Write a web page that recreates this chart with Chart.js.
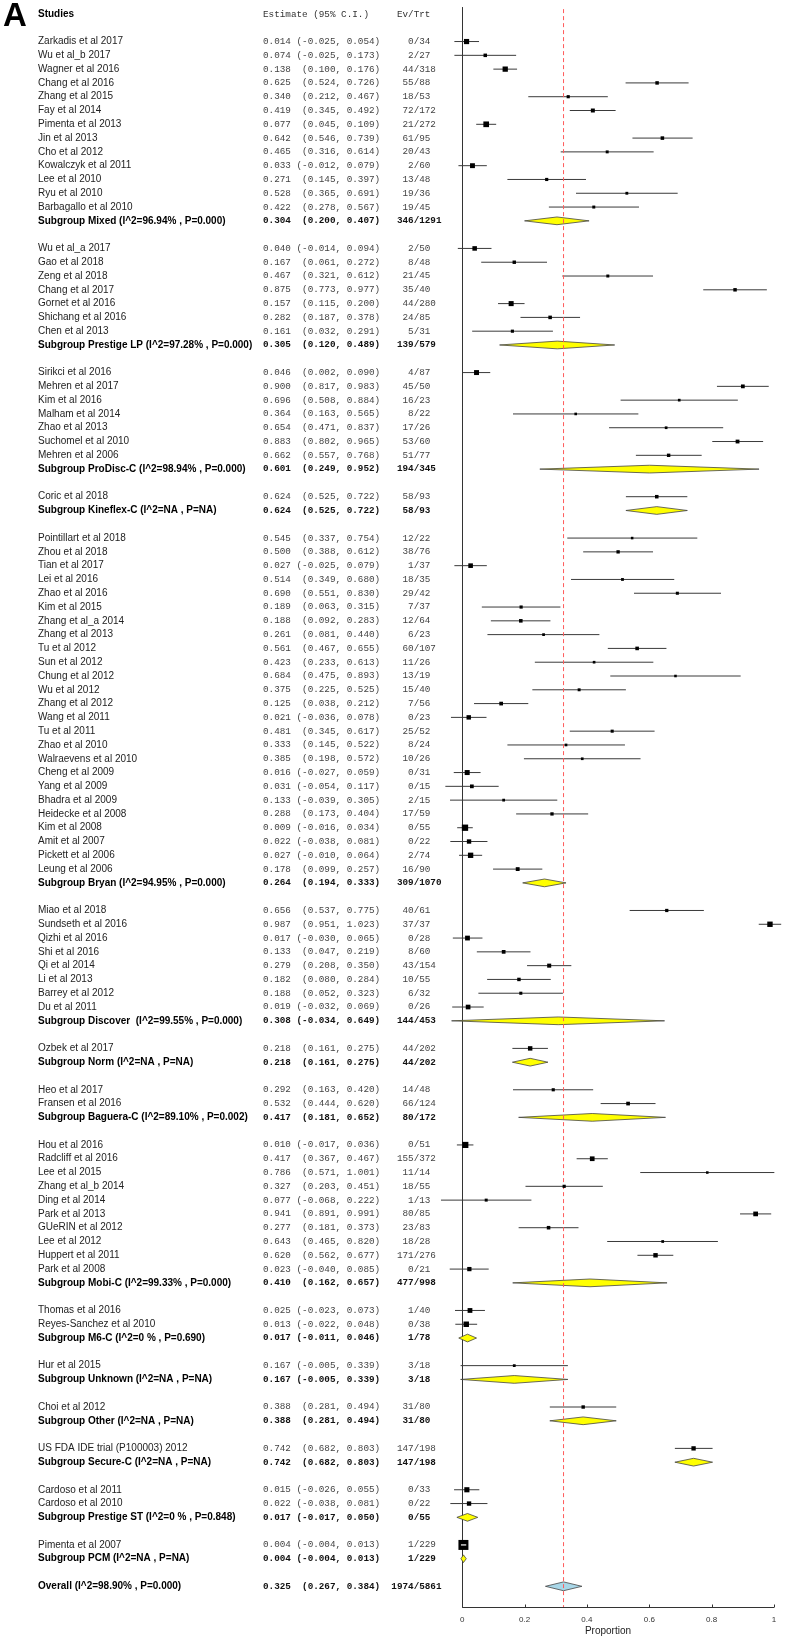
<!DOCTYPE html>
<html>
<head>
<meta charset="utf-8">
<title>Forest plot - proportion</title>
<script src="https://cdn.jsdelivr.net/npm/chart.js@4.4.1/dist/chart.umd.min.js"></script>
<style>
  html, body { margin: 0; padding: 0; background: #fff; }
  #wrap { position: relative; width: 792px; height: 1638px; }
</style>
</head>
<body>
<div id="wrap"><canvas id="forest"></canvas></div>
<script>
// ---- data ----
const studyNames = [
  'Zarkadis et al 2017', 'Wu et al_b 2017', 'Wagner et al 2016', 'Chang et al 2016', 'Zhang et al 2015',
  'Fay et al 2014', 'Pimenta et al 2013', 'Jin et al 2013', 'Cho et al 2012', 'Kowalczyk et al 2011',
  'Lee et al 2010', 'Ryu et al 2010', 'Barbagallo et al 2010',
  'Wu et al_a 2017', 'Gao et al 2018', 'Zeng et al 2018', 'Chang et al 2017', 'Gornet et al 2016',
  'Shichang et al 2016', 'Chen et al 2013',
  'Sirikci et al 2016', 'Mehren et al 2017', 'Kim et al 2016', 'Malham et al 2014', 'Zhao et al 2013',
  'Suchomel et al 2010', 'Mehren et al 2006',
  'Coric et al 2018',
  'Pointillart et al 2018', 'Zhou et al 2018', 'Tian et al 2017', 'Lei et al 2016', 'Zhao et al 2016',
  'Kim et al 2015', 'Zhang et al_a 2014', 'Zhang et al 2013', 'Tu et al 2012', 'Sun et al 2012',
  'Chung et al 2012', 'Wu et al 2012', 'Zhang et al 2012', 'Wang et al 2011', 'Tu et al 2011',
  'Zhao et al 2010', 'Walraevens et al 2010', 'Cheng et al 2009', 'Yang et al 2009', 'Bhadra et al 2009',
  'Heidecke et al 2008', 'Kim et al 2008', 'Amit et al 2007', 'Pickett et al 2006', 'Leung et al 2006',
  'Miao et al 2018', 'Sundseth et al 2016', 'Qizhi et al 2016', 'Shi et al 2016', 'Qi et al 2014',
  'Li et al 2013', 'Barrey et al 2012', 'Du et al 2011',
  'Ozbek et al 2017',
  'Heo et al 2017', 'Fransen et al 2016',
  'Hou et al 2016', 'Radcliff et al 2016', 'Lee et al 2015', 'Zhang et al_b 2014', 'Ding et al 2014',
  'Park et al 2013', 'GUeRIN et al 2012', 'Lee et al 2012', 'Huppert et al 2011', 'Park et al 2008',
  'Thomas et al 2016', 'Reyes-Sanchez et al 2010',
  'Hur et al 2015',
  'Choi et al 2012',
  'US FDA IDE trial (P100003) 2012',
  'Cardoso et al 2011', 'Cardoso et al 2010',
  'Pimenta et al 2007'
];
const studyEst = [
  0.014, 0.074, 0.138, 0.625, 0.340, 0.419, 0.077, 0.642, 0.465, 0.033, 0.271, 0.528, 0.422,
  0.040, 0.167, 0.467, 0.875, 0.157, 0.282, 0.161,
  0.046, 0.900, 0.696, 0.364, 0.654, 0.883, 0.662,
  0.624,
  0.545, 0.500, 0.027, 0.514, 0.690, 0.189, 0.188, 0.261, 0.561, 0.423, 0.684, 0.375, 0.125,
  0.021, 0.481, 0.333, 0.385, 0.016, 0.031, 0.133, 0.288, 0.009, 0.022, 0.027, 0.178,
  0.656, 0.987, 0.017, 0.133, 0.279, 0.182, 0.188, 0.019,
  0.218,
  0.292, 0.532,
  0.010, 0.417, 0.786, 0.327, 0.077, 0.941, 0.277, 0.643, 0.620, 0.023,
  0.025, 0.013,
  0.167,
  0.388,
  0.742,
  0.015, 0.022,
  0.004
];
const studyLower = [
  -0.025, -0.025, 0.100, 0.524, 0.212, 0.345, 0.045, 0.546, 0.316, -0.012, 0.145, 0.365, 0.278,
  -0.014, 0.061, 0.321, 0.773, 0.115, 0.187, 0.032,
  0.002, 0.817, 0.508, 0.163, 0.471, 0.802, 0.557,
  0.525,
  0.337, 0.388, -0.025, 0.349, 0.551, 0.063, 0.092, 0.081, 0.467, 0.233, 0.475, 0.225, 0.038,
  -0.036, 0.345, 0.145, 0.198, -0.027, -0.054, -0.039, 0.173, -0.016, -0.038, -0.010, 0.099,
  0.537, 0.951, -0.030, 0.047, 0.208, 0.080, 0.052, -0.032,
  0.161,
  0.163, 0.444,
  -0.017, 0.367, 0.571, 0.203, -0.068, 0.891, 0.181, 0.465, 0.562, -0.040,
  -0.023, -0.022,
  -0.005,
  0.281,
  0.682,
  -0.026, -0.038,
  -0.004
];
const studyUpper = [
  0.054, 0.173, 0.176, 0.726, 0.467, 0.492, 0.109, 0.739, 0.614, 0.079, 0.397, 0.691, 0.567,
  0.094, 0.272, 0.612, 0.977, 0.200, 0.378, 0.291,
  0.090, 0.983, 0.884, 0.565, 0.837, 0.965, 0.768,
  0.722,
  0.754, 0.612, 0.079, 0.680, 0.830, 0.315, 0.283, 0.440, 0.655, 0.613, 0.893, 0.525, 0.212,
  0.078, 0.617, 0.522, 0.572, 0.059, 0.117, 0.305, 0.404, 0.034, 0.081, 0.064, 0.257,
  0.775, 1.023, 0.065, 0.219, 0.350, 0.284, 0.323, 0.069,
  0.275,
  0.420, 0.620,
  0.036, 0.467, 1.001, 0.451, 0.222, 0.991, 0.373, 0.820, 0.677, 0.085,
  0.073, 0.048,
  0.339,
  0.494,
  0.803,
  0.055, 0.081,
  0.013
];
const studyEvents = [
  0, 2, 44, 55, 18, 72, 21, 61, 20, 2, 13, 19, 19,
  2, 8, 21, 35, 44, 24, 5,
  4, 45, 16, 8, 17, 53, 51,
  58,
  12, 38, 1, 18, 29, 7, 12, 6, 60, 11, 13, 15, 7, 0, 25, 8, 10, 0, 0, 2, 17, 0, 0, 2, 16,
  40, 37, 0, 8, 43, 10, 6, 0,
  44,
  14, 66,
  0, 155, 11, 18, 1, 80, 23, 18, 171, 0,
  1, 0,
  3,
  31,
  147,
  0, 0,
  1
];
const studyTotals = [
  34, 27, 318, 88, 53, 172, 272, 95, 43, 60, 48, 36, 45,
  50, 48, 45, 40, 280, 85, 31,
  87, 50, 23, 22, 26, 60, 77,
  93,
  22, 76, 37, 35, 42, 37, 64, 23, 107, 26, 19, 40, 56, 23, 52, 24, 26, 31, 15, 15, 59, 55, 22, 74, 90,
  61, 37, 28, 60, 154, 55, 32, 26,
  202,
  48, 124,
  51, 372, 14, 55, 13, 85, 83, 28, 276, 21,
  40, 38,
  18,
  80,
  198,
  33, 22,
  229
];

const groupSizes = [13, 7, 7, 1, 25, 8, 1, 2, 10, 2, 1, 1, 1, 2, 1];
const groupLabels = [
  'Subgroup Mixed (I^2=96.94% , P=0.000)',
  'Subgroup Prestige LP (I^2=97.28% , P=0.000)',
  'Subgroup ProDisc-C (I^2=98.94% , P=0.000)',
  'Subgroup Kineflex-C (I^2=NA , P=NA)',
  'Subgroup Bryan (I^2=94.95% , P=0.000)',
  'Subgroup Discover  (I^2=99.55% , P=0.000)',
  'Subgroup Norm (I^2=NA , P=NA)',
  'Subgroup Baguera-C (I^2=89.10% , P=0.002)',
  'Subgroup Mobi-C (I^2=99.33% , P=0.000)',
  'Subgroup M6-C (I^2=0 % , P=0.690)',
  'Subgroup Unknown (I^2=NA , P=NA)',
  'Subgroup Other (I^2=NA , P=NA)',
  'Subgroup Secure-C (I^2=NA , P=NA)',
  'Subgroup Prestige ST (I^2=0 % , P=0.848)',
  'Subgroup PCM (I^2=NA , P=NA)'
];
const groupEst = [0.304, 0.305, 0.601, 0.624, 0.264, 0.308, 0.218, 0.417, 0.410, 0.017, 0.167, 0.388, 0.742, 0.017, 0.004];
const groupLower = [0.200, 0.120, 0.249, 0.525, 0.194, -0.034, 0.161, 0.181, 0.162, -0.011, -0.005, 0.281, 0.682, -0.017, -0.004];
const groupUpper = [0.407, 0.489, 0.952, 0.722, 0.333, 0.649, 0.275, 0.652, 0.657, 0.046, 0.339, 0.494, 0.803, 0.050, 0.013];
const groupEvents = [346, 139, 194, 58, 309, 144, 44, 80, 477, 1, 3, 31, 147, 0, 1];
const groupTotals = [1291, 579, 345, 93, 1070, 453, 202, 172, 998, 78, 18, 80, 198, 55, 229];

const overallLabel = 'Overall (I^2=98.90% , P=0.000)';
const overallEst = 0.325;
const overallLower = 0.267;
const overallUpper = 0.384;
const overallEvents = 1974;
const overallTotal = 5861;

const xTicks = [0, 0.2, 0.4, 0.6, 0.8, 1];

// ---- row layout ----
const studyRow = [];
const groupRow = [];
let r = 0, s = 0;
groupSizes.forEach((n, gi) => {
  for (let k = 0; k < n; k++) studyRow[s++] = r++;
  groupRow[gi] = r++;
  r++; // blank line between subgroups
});
const overallRow = r;

const X_MIN = -0.1, X_MAX = 1.035;
const Y_TOP = -2.5, Y_BOTTOM = 113.5;
const PX_PER_UNIT = 317;

// box size shrinks with CI width (stand-in for study weight)
const boxSide = studyEst.map((_, i) => 1.76 / Math.pow(studyUpper[i] - studyLower[i], 0.426));

const sans = '"Liberation Sans", Arial, sans-serif';
const mono = '"Liberation Mono", "DejaVu Sans Mono", monospace';

function ciText(est, lo, hi) {
  return est.toFixed(3) + ' ' + ('(' + lo.toFixed(3)).padStart(7, ' ') + ', ' + hi.toFixed(3) + ')';
}

function diamond(est, lo, hi, row, h) {
  return [
    { x: lo, y: row }, { x: est, y: row - h }, { x: hi, y: row },
    { x: est, y: row + h }, { x: lo, y: row }
  ];
}

// ---- datasets ----
const ciLines = [];
studyEst.forEach((_, i) => {
  ciLines.push({ x: studyLower[i], y: studyRow[i] }, { x: studyUpper[i], y: studyRow[i] }, { x: null, y: null });
});

const innerLines = [];
studyEst.forEach((_, i) => {
  if ((studyUpper[i] - studyLower[i]) * PX_PER_UNIT < boxSide[i]) {
    innerLines.push({ x: studyLower[i], y: studyRow[i] }, { x: studyUpper[i], y: studyRow[i] }, { x: null, y: null });
  }
});

const datasets = [];
datasets.push({
  type: 'line', label: 'inner', data: innerLines, order: 0,
  borderColor: '#fff', borderWidth: 1.2, pointRadius: 0, spanGaps: false, fill: false
});
datasets.push({
  type: 'scatter', label: 'studies', order: 1,
  data: studyEst.map((e, i) => ({ x: e, y: studyRow[i] })),
  pointStyle: 'rect',
  pointRadius: boxSide.map(v => v / (2 * Math.SQRT1_2)),
  pointHoverRadius: boxSide.map(v => v / (2 * Math.SQRT1_2)),
  pointBackgroundColor: '#000', pointBorderWidth: 0
});
datasets.push({
  type: 'line', label: 'overall line', order: 2,
  data: [{ x: overallEst, y: Y_TOP + 0.15 }, { x: overallEst, y: Y_BOTTOM }],
  borderColor: '#ff5a5a', borderWidth: 1, borderDash: [4, 3], pointRadius: 0, fill: false
});
datasets.push({
  type: 'line', label: 'ci', data: ciLines, order: 3,
  borderColor: '#3a3a3a', borderWidth: 1, pointRadius: 0, spanGaps: false, fill: false
});
groupEst.forEach((e, gi) => {
  datasets.push({
    type: 'line', label: groupLabels[gi], order: 4,
    data: diamond(e, groupLower[gi], groupUpper[gi], groupRow[gi], 0.28),
    borderColor: '#444', borderWidth: 0.8, backgroundColor: '#ffff00',
    pointRadius: 0, fill: 'shape', tension: 0
  });
});
datasets.push({
  type: 'line', label: 'overall', order: 4,
  data: diamond(overallEst, overallLower, overallUpper, overallRow, 0.32),
  borderColor: '#444', borderWidth: 0.8, backgroundColor: '#a9d7e8',
  pointRadius: 0, fill: 'shape', tension: 0
});

// ---- axis lines (bottom axis only spans 0..1, ticks point up) ----
const axisLines = {
  id: 'axisLines',
  beforeDatasetsDraw(chart) {
    const { ctx, chartArea, scales: { x } } = chart;
    ctx.save();
    ctx.strokeStyle = '#333';
    ctx.lineWidth = 1;
    ctx.beginPath();
    const x0 = Math.round(x.getPixelForValue(0)) + 0.5;
    ctx.moveTo(x0, chartArea.top);
    ctx.lineTo(x0, chartArea.bottom);
    const yb = Math.round(chartArea.bottom) + 0.5;
    ctx.moveTo(x.getPixelForValue(0), yb);
    ctx.lineTo(x.getPixelForValue(1), yb);
    xTicks.forEach(v => {
      const px = Math.round(x.getPixelForValue(v)) + 0.5;
      ctx.moveTo(px, yb);
      ctx.lineTo(px, yb - 3);
    });
    ctx.stroke();
    ctx.restore();
  }
};

// ---- the table on the left ----
const tableText = {
  id: 'tableText',
  afterDraw(chart) {
    const { ctx, scales: { y } } = chart;
    const nameX = 38, estX = 263;
    const monoSize = 9.3;
    ctx.save();
    ctx.textBaseline = 'middle';
    ctx.font = monoSize + 'px ' + mono;
    const cw = ctx.measureText('0').width;
    const slashX = estX + 27 * cw;

    ctx.fillStyle = '#000';
    ctx.font = 'bold 33px ' + sans;
    ctx.textAlign = 'left';
    ctx.fillText('A', 3, 17);

    const headY = y.getPixelForValue(-1.95);
    ctx.font = 'bold 10px ' + sans;
    ctx.fillText('Studies', nameX, headY);
    ctx.font = monoSize + 'px ' + mono;
    ctx.fillStyle = '#333';
    ctx.fillText('Estimate (95% C.I.)', estX, headY);
    ctx.fillText('Ev/Trt', estX + 24 * cw, headY);

    function row(rowIdx, name, est, lo, hi, ev, tot, bold) {
      const py = y.getPixelForValue(rowIdx);
      ctx.textAlign = 'left';
      ctx.fillStyle = bold ? '#000' : '#222';
      ctx.font = (bold ? 'bold ' : '') + '10px ' + sans;
      ctx.fillText(name, nameX, py);
      ctx.fillStyle = bold ? '#111' : '#444';
      ctx.font = (bold ? 'bold ' : '') + monoSize + 'px ' + mono;
      ctx.fillText(ciText(est, lo, hi), estX, py);
      ctx.textAlign = 'right';
      ctx.fillText(String(ev), slashX, py);
      ctx.textAlign = 'left';
      ctx.fillText('/' + tot, slashX, py);
    }

    studyNames.forEach((n, i) => row(studyRow[i], n, studyEst[i], studyLower[i], studyUpper[i], studyEvents[i], studyTotals[i], false));
    groupLabels.forEach((n, gi) => row(groupRow[gi], n, groupEst[gi], groupLower[gi], groupUpper[gi], groupEvents[gi], groupTotals[gi], true));
    row(overallRow, overallLabel, overallEst, overallLower, overallUpper, overallEvents, overallTotal, true);
    ctx.restore();
  }
};

new Chart(document.getElementById('forest'), {
  type: 'scatter',
  data: { datasets },
  options: {
    responsive: true,
    maintainAspectRatio: false,
    animation: false,
    events: [],
    layout: { padding: { left: 431, right: 1, top: 5, bottom: 0 } },
    plugins: { legend: { display: false }, tooltip: { enabled: false } },
    scales: {
      x: {
        type: 'linear', min: X_MIN, max: X_MAX,
        afterBuildTicks: sc => { sc.ticks = xTicks.map(v => ({ value: v })); },
        afterFit: sc => { sc.height = 31; },
        border: { display: false },
        grid: { display: false, drawTicks: false, tickLength: 0 },
        ticks: {
          autoSkip: false, maxRotation: 0, padding: 8, color: '#333',
          font: { family: sans, size: 8 },
          callback: v => String(Math.round(v * 10) / 10)
        },
        title: { display: true, text: 'Proportion', color: '#222', font: { family: sans, size: 10 }, padding: { top: 0, bottom: 1 } }
      },
      y: {
        type: 'linear', min: Y_TOP, max: Y_BOTTOM, reverse: true, display: false
      }
    }
  },
  plugins: [axisLines, tableText]
});
</script>
</body>
</html>
